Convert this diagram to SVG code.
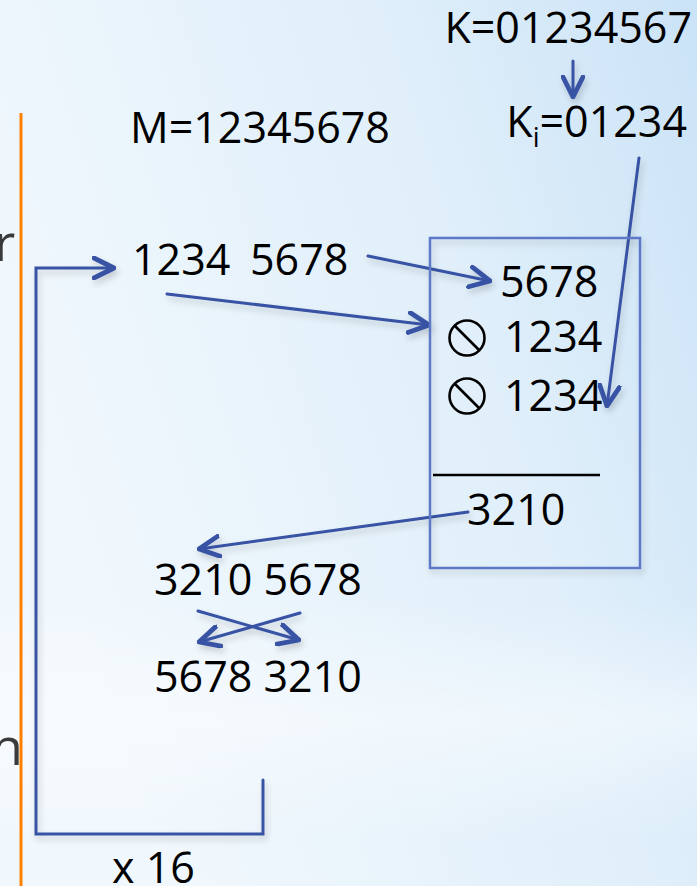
<svg xmlns="http://www.w3.org/2000/svg" width="697" height="886" viewBox="0 0 697 886">
<defs>
<linearGradient id="bg" x1="0" y1="0.4" x2="1" y2="0">
<stop offset="0" stop-color="#f1f8fd"/>
<stop offset="0.6" stop-color="#e0effa"/>
<stop offset="1" stop-color="#cbe3f7"/>
</linearGradient>
<linearGradient id="band" x1="0" y1="0" x2="0" y2="1">
<stop offset="0" stop-color="#ffffff" stop-opacity="0"/>
<stop offset="0.5" stop-color="#ffffff" stop-opacity="0.45"/>
<stop offset="1" stop-color="#ffffff" stop-opacity="0"/>
</linearGradient>
<filter id="sh" x="-20%" y="-20%" width="140%" height="140%">
<feDropShadow dx="2" dy="4" stdDeviation="3" flood-color="#000" flood-opacity="0.18"/>
</filter>
<marker id="ah" viewBox="0 0 12 12" refX="11" refY="6" markerWidth="24" markerHeight="24" markerUnits="userSpaceOnUse" orient="auto">
<path d="M1,1 L11,6 L1,11" fill="none" stroke="#3853a4" stroke-width="2.4" stroke-linecap="round" stroke-linejoin="round"/>
</marker>
<style>
.t{font-family:"Open Sans","Liberation Sans",sans-serif;font-size:43px;fill:#000}
.g{font-family:"Open Sans","Liberation Sans",sans-serif;font-size:52px;fill:#3a3a3a}
.c{fill:none;stroke:#3853a4;stroke-width:3;stroke-linecap:round;stroke-linejoin:miter}
.a{marker-end:url(#ah)}
.sym{fill:none;stroke:#000;stroke-width:2.6}
</style>
</defs>
<rect width="697" height="886" fill="url(#bg)"/>
<rect x="0" y="600" width="697" height="240" fill="url(#band)"/>
<g id="edge-text">
<text class="g" x="-6" y="261">r</text>
<text class="g" x="-9" y="765">n</text>
</g>
<line id="divider" x1="21" y1="113" x2="21" y2="886" stroke="#ff8000" stroke-width="3"/>
<g id="connectors" filter="url(#sh)">
<path class="c a" d="M263,780 V834 H36 V268 H114"/>
<line class="c a" x1="573" y1="61" x2="573" y2="97"/>
<line class="c a" x1="368" y1="256" x2="490" y2="281"/>
<line class="c a" x1="167" y1="294" x2="429" y2="325"/>
<line class="c a" x1="639" y1="158" x2="607" y2="406"/>
<line class="c a" x1="468" y1="512" x2="199" y2="549"/>
<line class="c a" x1="198" y1="611" x2="299" y2="640"/>
<line class="c a" x1="300" y1="613" x2="199" y2="642"/>
</g>
<g id="key">
<text class="t" x="692" y="43" text-anchor="end">K=01234567</text>
<text class="t" x="687" y="137" text-anchor="end">K<tspan font-size="27" dy="10">i</tspan><tspan dy="-10">=01234</tspan></text>
</g>
<g id="message">
<text class="t" x="130" y="143">M=12345678</text>
</g>
<g id="halves">
<text class="t" x="132" y="275">1234</text>
<text class="t" x="250" y="275">5678</text>
</g>
<g id="round-box">
<rect x="430" y="238" width="210" height="330" fill="none" stroke="#5d78c6" stroke-width="2.5" filter="url(#sh)"/>
<text class="t" x="500" y="297">5678</text>
<circle class="sym" cx="467" cy="338" r="17.5"/>
<line class="sym" x1="455" y1="326" x2="479" y2="350"/>
<text class="t" x="504" y="352">1234</text>
<circle class="sym" cx="467" cy="396" r="17.5"/>
<line class="sym" x1="455" y1="384" x2="479" y2="408"/>
<text class="t" x="504" y="411">1234</text>
<line x1="433" y1="475" x2="600" y2="475" stroke="#000" stroke-width="2.5"/>
<text class="t" x="467" y="525">3210</text>
</g>
<g id="combined">
<text class="t" x="154" y="595">3210 5678</text>
</g>
<g id="swapped">
<text class="t" x="154" y="692">5678 3210</text>
</g>
<g id="repeat-label">
<text class="t" x="112" y="883">x 16</text>
</g>
</svg>
